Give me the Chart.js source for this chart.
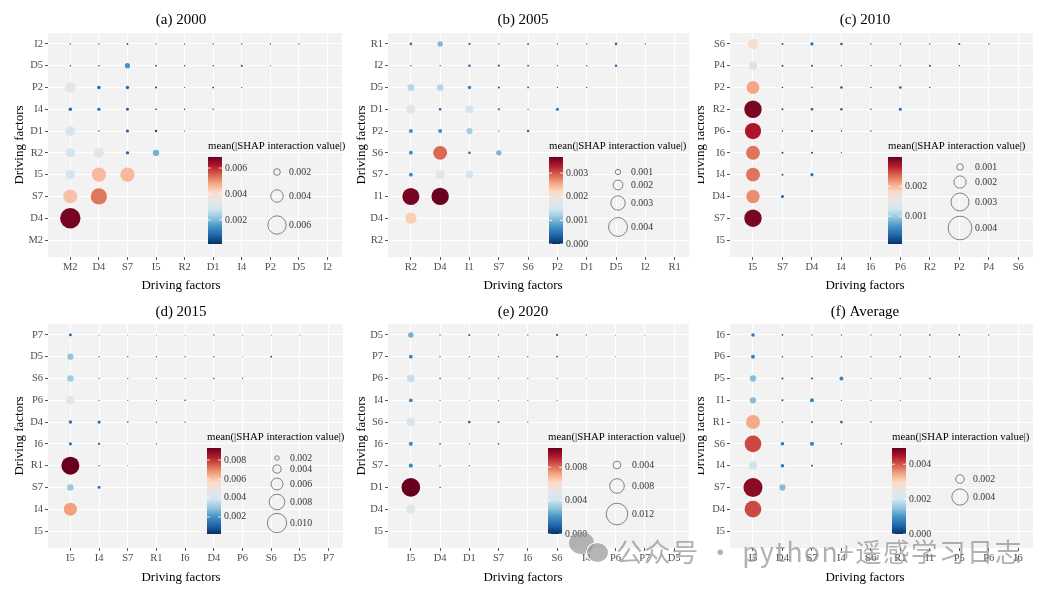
<!DOCTYPE html>
<html>
<head>
<meta charset="utf-8">
<script src="https://cdn.jsdelivr.net/npm/chart.js@4.4.1/dist/chart.umd.min.js"></script>
<style>
  body { margin: 0; background: #fff; }
  #page { position: relative; width: 1056px; height: 594px; overflow: hidden; background: #fff; }
  #page canvas { position: absolute; }
  .mark { position: absolute; left: 616px; top: 536px; font: 26.5px 'Noto Sans CJK SC', 'Noto Sans', sans-serif; line-height: 30px; color: rgba(140, 140, 140, 0.68); white-space: nowrap; letter-spacing: 1.4px; }
  .bub { position: absolute; border-radius: 50%; background: rgba(150, 150, 150, 0.7); }
</style>
</head>
<body>
<div id="page">
  <canvas id="ca"></canvas>
  <canvas id="cb"></canvas>
  <canvas id="cc"></canvas>
  <canvas id="cd"></canvas>
  <canvas id="ce"></canvas>
  <canvas id="cf"></canvas>
  <div class="bub" style="left:569px;top:532px;width:25px;height:22px"></div>
  <div class="bub" style="left:586px;top:542px;width:21px;height:19px;border:1.5px solid #fff"></div>
  <div class="mark">公众号 · python+遥感学习日志</div>
</div>
<script>
// factor order of each panel (x from left, y from bottom)
const factorsA = ['M2', 'D4', 'S7', 'I5', 'R2', 'D1', 'I4', 'P2', 'D5', 'I2']
const factorsB = ['R2', 'D4', 'I1', 'S7', 'S6', 'P2', 'D1', 'D5', 'I2', 'R1']
const factorsC = ['I5', 'S7', 'D4', 'I4', 'I6', 'P6', 'R2', 'P2', 'P4', 'S6']
const factorsD = ['I5', 'I4', 'S7', 'R1', 'I6', 'D4', 'P6', 'S6', 'D5', 'P7']
const factorsE = ['I5', 'D4', 'D1', 'S7', 'I6', 'S6', 'I4', 'P6', 'P7', 'D5']
const factorsF = ['I5', 'D4', 'S7', 'I4', 'S6', 'R1', 'I1', 'P5', 'P6', 'I6']

// mean |SHAP interaction| : row j (y factor) holds values for x factors 0..j-1
const valuesA = [
  [],
  [0.0067],
  [0.0045, 0.0053],
  [0.0029, 0.0046, 0.0046],
  [0.0029, 0.0033, 0.0009, 0.0019],
  [0.0031, 0.0002, 0.0008, 0.0006, 0.0001],
  [0.0009, 0.0008, 0.0007, 0.0003, 0.0002, 0.0002],
  [0.0033, 0.0009, 0.0009, 0.0004, 0.0001, 0.0003, 0.0001],
  [0.0002, 0.0002, 0.0015, 0.0003, 0.0002, 0.0002, 0.0004, 0.0001],
  [0.0002, 0.0002, 0.0003, 0.0001, 0.0001, 0.0002, 0.0002, 0.0002, 0.0001],
]
const valuesB = [
  [],
  [0.0023],
  [0.0036, 0.00367],
  [0.0007, 0.0019, 0.0015],
  [0.0007, 0.0029, 0.0004, 0.0010],
  [0.0007, 0.0007, 0.0012, 0.0001, 0.0004],
  [0.0019, 0.0004, 0.0015, 0.0003, 0.0001, 0.0005],
  [0.0013, 0.0013, 0.0006, 0.0003, 0.0002, 0.0001, 0.0001],
  [0.0001, 0.0001, 0.0004, 0.0003, 0.0002, 0.0001, 0.0001, 0.0004],
  [0.0004, 0.0010, 0.0003, 0.0001, 0.0002, 0.0001, 0.0001, 0.0004, 0.0001],
]
const valuesC = [
  [],
  [0.0029],
  [0.0022, 0.0004],
  [0.0023, 0.0002, 0.0004],
  [0.0023, 0.0002, 0.0002, 0.0001],
  [0.0027, 0.0001, 0.0002, 0.0001, 0.0001],
  [0.0029, 0.0002, 0.0003, 0.0003, 0.0001, 0.0004],
  [0.0021, 0.0001, 0.0001, 0.0003, 0.0001, 0.0003, 0.0001],
  [0.0013, 0.0002, 0.0002, 0.0001, 0.0001, 0.0001, 0.0002, 0.0001],
  [0.0017, 0.0002, 0.0004, 0.0003, 0.0001, 0.0001, 0.0001, 0.0002, 0.0001],
]
const valuesD = [
  [],
  [0.0066],
  [0.0030, 0.0011],
  [0.0093, 0.0002, 0.0001],
  [0.0013, 0.0008, 0.0001, 0.0003],
  [0.0014, 0.0013, 0.0004, 0.0003, 0.0003],
  [0.0043, 0.0002, 0.0002, 0.0002, 0.0004, 0.0001],
  [0.0031, 0.0002, 0.0002, 0.0002, 0.0002, 0.0003, 0.0002],
  [0.0029, 0.0002, 0.0002, 0.0002, 0.0002, 0.0002, 0.0001, 0.0005],
  [0.0011, 0.0001, 0.0001, 0.0001, 0.0001, 0.0002, 0.0001, 0.0001, 0.0001],
]
const valuesE = [
  [],
  [0.0049],
  [0.0103, 0.0003],
  [0.0019, 0.0002, 0.0002],
  [0.0019, 0.0005, 0.0002, 0.0005],
  [0.0045, 0.0002, 0.0011, 0.0006, 0.0002],
  [0.0017, 0.0002, 0.0001, 0.0002, 0.0002, 0.0002],
  [0.0039, 0.0005, 0.0002, 0.0002, 0.0002, 0.0002, 0.0001],
  [0.0017, 0.0002, 0.0002, 0.0002, 0.0002, 0.0005, 0.0001, 0.0001],
  [0.0027, 0.0002, 0.0007, 0.0002, 0.0002, 0.0008, 0.0002, 0.0001, 0.0001],
]
const valuesF = [
  [],
  [0.0041],
  [0.0047, 0.0014],
  [0.0020, 0.0007, 0.0003],
  [0.0041, 0.0007, 0.0009, 0.0002],
  [0.0034, 0.0002, 0.0003, 0.0005, 0.0002],
  [0.0014, 0.0003, 0.0008, 0.0001, 0.0001, 0.0001],
  [0.0014, 0.0003, 0.0003, 0.0008, 0.0001, 0.0001, 0.0002],
  [0.0008, 0.0002, 0.0001, 0.0002, 0.0001, 0.0002, 0.0001, 0.0002],
  [0.0007, 0.0002, 0.0001, 0.0001, 0.0001, 0.0001, 0.0002, 0.0002, 0.0001],
]

// colour scale limits and legend breaks
const limitsA = [0.00015, 0.00685]
const limitsB = [0, 0.00368]
const limitsC = [0.00007, 0.00297]
const limitsD = [0.0002, 0.00926]
const limitsE = [0, 0.0103]
const limitsF = [0, 0.00493]
const barTicksA = [0.002, 0.004, 0.006]
const barTicksB = [0.000, 0.001, 0.002, 0.003]
const barTicksC = [0.001, 0.002]
const barTicksD = [0.002, 0.004, 0.006, 0.008]
const barTicksE = [0.000, 0.004, 0.008]
const barTicksF = [0.000, 0.002, 0.004]
const sizeTicksA = [0.002, 0.004, 0.006]
const sizeTicksB = [0.001, 0.002, 0.003, 0.004]
const sizeTicksC = [0.001, 0.002, 0.003, 0.004]
const sizeTicksD = [0.002, 0.004, 0.006, 0.008, 0.010]
const sizeTicksE = [0.004, 0.008, 0.012]
const sizeTicksF = [0.002, 0.004]

const titles = ['(a) 2000', '(b) 2005', '(c) 2010', '(d) 2015', '(e) 2020', '(f) Average']
const axisTitle = 'Driving factors'
const legendTitle = 'mean(|SHAP interaction value|)'

const SERIF = "'Liberation Serif', 'Times New Roman', serif"
const RDBU = ['#053061', '#2166ac', '#4393c3', '#92c5de', '#d1e5f0', '#e6e6e6', '#fddbc7', '#f4a582', '#d6604d', '#b2182b', '#67001f']

function hexRgb(h) {
  return [1, 3, 5].map((i) => parseInt(h.slice(i, i + 2), 16))
}
function shade(t) {
  t = Math.min(1, Math.max(0, t))
  const s = t * (RDBU.length - 1)
  const i = Math.min(RDBU.length - 2, Math.floor(s))
  const f = s - i
  const a = hexRgb(RDBU[i])
  const b = hexRgb(RDBU[i + 1])
  const c = a.map((v, k) => Math.round(v + (b[k] - v) * f))
  return `rgb(${c[0]},${c[1]},${c[2]})`
}

const rowTop = { top: 0, h: 297, padTop: 33, xh: 40, titleY: 20, xTitleY: 286, legTitleY: 146, barTop: 157, barBottom: 244 }
const rowBot = { top: 297, h: 297, padTop: 27, xh: 46, titleY: 312, xTitleY: 578, legTitleY: 437, barTop: 448, barBottom: 534 }
const colL = { left: 0, w: 352, yw: 48, padRight: 0, titleX: 181, yTitleX: 20 }
const colM = { left: 352, w: 346, yw: 36, padRight: 5, titleX: 523, yTitleX: 362 }
const colR = { left: 698, w: 358, yw: 32, padRight: 23, titleX: 865, yTitleX: 701 }

const panels = [
  { id: 'ca', ...rowTop, ...colL, title: titles[0], factors: factorsA, values: valuesA, limits: limitsA, barTicks: barTicksA, sizeTicks: sizeTicksA,
    k: 1460, legX: 208, sizeX: 277, sizeLabelX: 289, sizeY: [172, 196, 225] },
  { id: 'cb', ...rowTop, ...colM, title: titles[1], factors: factorsB, values: valuesB, limits: limitsB, barTicks: barTicksB, sizeTicks: sizeTicksB,
    k: 2260, legX: 549, sizeX: 618, sizeLabelX: 631, sizeY: [172, 185, 203, 227] },
  { id: 'cc', ...rowTop, ...colR, title: titles[2], factors: factorsC, values: valuesC, limits: limitsC, barTicks: barTicksC, sizeTicks: sizeTicksC,
    k: 2860, legX: 888, sizeX: 960, sizeLabelX: 975, sizeY: [167, 182, 202, 228] },
  { id: 'cd', ...rowBot, ...colL, title: titles[3], factors: factorsD, values: valuesD, limits: limitsD, barTicks: barTicksD, sizeTicks: sizeTicksD,
    k: 925, legX: 207, sizeX: 277, sizeLabelX: 290, sizeY: [458, 469, 484, 502, 523] },
  { id: 'ce', ...rowBot, ...colM, title: titles[4], factors: factorsE, values: valuesE, limits: limitsE, barTicks: barTicksE, sizeTicks: sizeTicksE,
    k: 865, legX: 548, sizeX: 617, sizeLabelX: 632, sizeY: [465, 486, 514] },
  { id: 'cf', ...rowBot, ...colR, title: titles[5], factors: factorsF, values: valuesF, limits: limitsF, barTicks: barTicksF, sizeTicks: sizeTicksF,
    k: 1940, legX: 892, sizeX: 960, sizeLabelX: 973, sizeY: [479, 497] },
]

const radius = (p, v) => 0.4 + p.k * v
const colorOf = (p, v) => shade((v - p.limits[0]) / (p.limits[1] - p.limits[0]))

function decor(p) {
  return {
    id: 'decor',
    beforeDraw(chart) {
      const { ctx, chartArea: a } = chart
      ctx.save()
      ctx.fillStyle = '#f2f2f2'
      ctx.fillRect(a.left, a.top, a.right - a.left, a.bottom - a.top)
      ctx.restore()
    },
    afterDraw(chart) {
      const { ctx, chartArea: a } = chart
      const ox = p.left
      const oy = p.top
      ctx.save()
      ctx.fillStyle = '#000'
      ctx.textAlign = 'center'
      ctx.textBaseline = 'middle'
      ctx.font = `15px ${SERIF}`
      ctx.fillText(p.title, p.titleX - ox, p.titleY - oy)
      ctx.font = `13px ${SERIF}`
      ctx.fillText(axisTitle, p.titleX - ox, p.xTitleY - oy)
      ctx.save()
      ctx.translate(p.yTitleX - ox, (a.top + a.bottom) / 2)
      ctx.rotate(-Math.PI / 2)
      ctx.fillText(axisTitle, 0, 0)
      ctx.restore()

      // colour bar
      const bx = p.legX - ox
      const bw = 14
      const bt = p.barTop - oy
      const bb = p.barBottom - oy
      ctx.textAlign = 'left'
      ctx.font = `10.8px ${SERIF}`
      ctx.fillText(legendTitle, bx, p.legTitleY - oy)
      const g = ctx.createLinearGradient(0, bb, 0, bt)
      RDBU.forEach((c, i) => g.addColorStop(i / (RDBU.length - 1), c))
      ctx.fillStyle = g
      ctx.fillRect(bx, bt, bw, bb - bt)
      ctx.font = `9.8px ${SERIF}`
      const [lo, hi] = p.limits
      p.barTicks.forEach((v) => {
        const y = bb - (v - lo) / (hi - lo) * (bb - bt)
        ctx.strokeStyle = '#fff'
        ctx.lineWidth = 0.8
        ctx.beginPath()
        ctx.moveTo(bx, y); ctx.lineTo(bx + 3, y)
        ctx.moveTo(bx + bw - 3, y); ctx.lineTo(bx + bw, y)
        ctx.stroke()
        ctx.fillStyle = '#333'
        ctx.fillText(v.toFixed(3), bx + bw + 3, y)
      })

      // size legend
      p.sizeTicks.forEach((v, i) => {
        const y = p.sizeY[i] - oy
        ctx.strokeStyle = '#666'
        ctx.lineWidth = 0.8
        ctx.beginPath()
        ctx.arc(p.sizeX - ox, y, radius(p, v), 0, Math.PI * 2)
        ctx.stroke()
        ctx.fillStyle = '#333'
        ctx.fillText(v.toFixed(3), p.sizeLabelX - ox, y)
      })
      ctx.restore()
    },
  }
}

function axis(p, horizontal) {
  return {
    type: 'linear',
    min: -0.78,
    max: 9.5,
    afterBuildTicks: (s) => { s.ticks = p.factors.map((_, i) => ({ value: i })) },
    afterFit: (s) => { if (horizontal) s.height = p.xh; else s.width = p.yw },
    ticks: {
      callback: (v) => p.factors[v],
      font: { family: SERIF, size: 10.5 },
      color: '#4d4d4d',
      padding: horizontal ? 1 : 2,
      autoSkip: false,
      maxRotation: 0,
    },
    grid: { color: '#ffffff', lineWidth: 1, tickLength: 3, tickColor: '#555', drawTicks: true },
    border: { display: false },
  }
}

panels.forEach((p) => {
  const canvas = document.getElementById(p.id)
  canvas.width = p.w
  canvas.height = p.h
  canvas.style.left = p.left + 'px'
  canvas.style.top = p.top + 'px'
  canvas.style.width = p.w + 'px'
  canvas.style.height = p.h + 'px'
  const points = []
  p.values.forEach((row, j) => row.forEach((v, i) => points.push({ x: i, y: j, r: radius(p, v), v })))
  new Chart(canvas, {
    type: 'bubble',
    data: {
      datasets: [{
        data: points,
        backgroundColor: (ctx) => colorOf(p, ctx.raw.v),
        borderWidth: 0,
        hoverRadius: 0,
      }],
    },
    options: {
      responsive: false,
      animation: false,
      events: [],
      layout: { padding: { top: p.padTop, right: p.padRight, left: 0, bottom: 0 } },
      plugins: { legend: { display: false }, tooltip: { enabled: false } },
      scales: { x: axis(p, true), y: axis(p, false) },
    },
    plugins: [decor(p)],
  })
})
</script>
</body>
</html>
